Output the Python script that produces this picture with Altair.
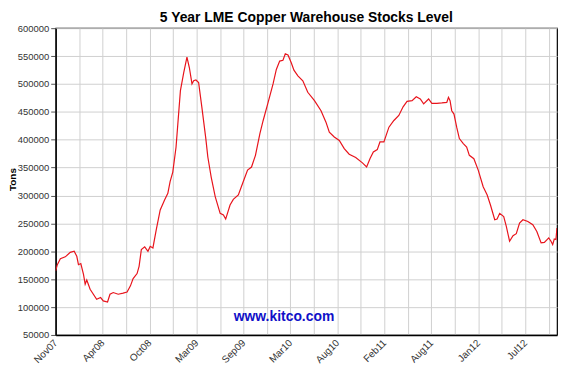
import altair as alt
import pandas as pd

# months since start of Nov 2007 (one vertical grid step = 2.8 months)
months = [0.0, 0.2, 0.56, 1.15, 1.74, 2.21, 2.52, 2.72, 3.0, 3.32, 3.52, 3.71, 4.11, 4.89,
          5.36, 5.68, 6.19, 6.48, 6.87, 7.46, 8.05, 8.52, 8.92, 9.24, 9.71, 9.95, 10.22,
          10.62, 11.01, 11.28, 11.6, 11.99, 12.47, 12.99, 13.38, 13.65, 13.97, 14.36,
          14.88, 15.27, 15.66, 15.95, 16.26, 16.46, 16.73, 17.05, 17.44, 17.91, 18.15,
          18.55, 19.03, 19.62, 20.01, 20.28, 20.8, 21.19, 21.79, 22.38, 22.89, 23.36,
          23.83, 24.36, 24.75, 25.34, 25.93, 26.32, 26.72, 27.11, 27.39, 27.71, 28.1,
          28.42, 28.89, 29.48, 30.07, 30.87, 31.65, 32.24, 32.64, 33.23, 33.83, 34.42,
          35.01, 35.79, 36.59, 37.09, 37.5, 37.89, 38.36, 38.68, 39.15, 39.75, 40.34,
          40.93, 41.44, 41.91, 42.51, 43.01, 43.49, 43.89, 44.48, 44.87, 45.47, 46.06,
          46.65, 46.85, 47.04, 47.24, 47.51, 47.83, 48.15, 48.62, 49.02, 49.34, 49.88,
          50.4, 50.99, 51.47, 51.86, 52.37, 52.65, 52.96, 53.44, 53.75, 54.14, 54.55,
          54.94, 55.33, 55.73, 56.32, 56.91, 57.39, 57.9, 58.29, 58.81, 59.08, 59.28,
          59.47, 59.67, 59.79]

tons = [165000, 176000, 186500, 190000, 198000, 200000, 191000, 176000, 178000, 158500,
        141000, 148500, 132000, 114000, 117000, 111000, 109000, 123000, 126000, 123000,
        125000, 127000, 138000, 151000, 160000, 173000, 203000, 208000, 200000, 209000,
        206000, 238000, 274000, 292000, 304000, 325000, 342000, 387000, 488000, 520000,
        548000, 529000, 500000, 505700, 507000, 502700, 458000, 402000, 369000, 333000,
        298000, 268000, 265000, 257700, 283000, 293000, 301000, 325000, 345500, 351000,
        372000, 410800, 434500, 467000, 500000, 526000, 541000, 542500, 554000, 552000,
        538000, 524700, 514600, 505700, 485000, 470000, 452000, 431500, 413700, 404800,
        398800, 384000, 374000, 368000, 358500, 351300, 366300, 378000, 382300, 396000,
        396000, 422500, 434500, 443400, 459000, 468800, 470000, 477000, 473000, 464200,
        473000, 465300, 465300, 466000, 467000, 476000, 470000, 452000, 446000, 422500,
        402000, 393000, 387000, 372000, 366000, 345500, 315700, 301000, 283000, 256500,
        257700, 268000, 262300, 244500, 218000, 228000, 231500, 250600, 256500, 253500,
        247500, 235600, 215000, 216000, 224000, 218000, 212000, 222000, 221000, 241700]

tick_labels = ["Nov07", "Apr08", "Oct08", "Mar09", "Sep09", "Mar10", "Aug10",
               "Feb11", "Aug11", "Jan12", "Jul12"]
y_ticks = [50000, 100000, 150000, 200000, 250000, 300000, 350000, 400000,
           450000, 500000, 550000, 600000]

step = 2.8
x_ticks = [round(step * k, 2) for k in range(22)]
grid_labels = []
for k in range(22):
    grid_labels.append(tick_labels[k // 2] if k % 2 == 0 else "")
arr = "[" + ",".join("'" + s + "'" for s in grid_labels) + "]"

df = pd.DataFrame({"m": months, "tons": tons})

line = alt.Chart(df).mark_line(color="#e8141c", strokeWidth=1.2, clip=True).encode(
    x=alt.X("m:Q", scale=alt.Scale(domain=[0, 59.8], nice=False, zero=False),
            axis=alt.Axis(values=x_ticks, labelExpr=arr + "[round(datum.value/2.8)]",
                          labelAngle=-45, labelAlign="right", labelBaseline="middle",
                          labelFontSize=10, labelColor="#333333", labelFont="Liberation Sans",
                          grid=True, gridColor="#d0d0d0", ticks=False, labelPadding=6,
                          domainColor="#000000", domainWidth=1.5, title=None,
                          labelOverlap=False, labelFlush=False)),
    y=alt.Y("tons:Q", scale=alt.Scale(domain=[50000, 600000], nice=False, zero=False),
            axis=alt.Axis(values=y_ticks, format="d", labelFontSize=9.5,
                          labelColor="#333333", labelFont="Liberation Sans",
                          grid=True, gridColor="#d0d0d0", tickColor="#555555",
                          tickSize=5, labelPadding=2, domainColor="#000000",
                          domainWidth=1.5, title="Tons", titleFont="Liberation Sans",
                          titleFontSize=10, titleFontWeight="bold", titleColor="#000000",
                          titleX=-43, titleY=152, titleAngle=270, titleAlign="center",
                          titleBaseline="middle",
                          labelOverlap=False, labelFlush=False)),
)

mark = alt.Chart(pd.DataFrame({"t": ["www.kitco.com"]})).mark_text(
    font="Liberation Sans", fontSize=14, fontWeight="bold", color="#1010c8"
).encode(text="t:N", x=alt.value(230), y=alt.value(291))

chart = (line + mark).properties(
    width=505, height=309,
    autosize=alt.AutoSizeParams(type="none"),
    padding={"left": 48, "top": 19, "right": 5, "bottom": 34},
    title=alt.TitleParams("5 Year LME Copper Warehouse Stocks Level",
                          font="Liberation Sans", fontSize=14, fontWeight="bold",
                          color="#000000", anchor="middle", offset=-2),
).configure_view(stroke="#000000", strokeWidth=1.2)

chart.save("out.html", embed_options={"renderer": "svg", "actions": False})
